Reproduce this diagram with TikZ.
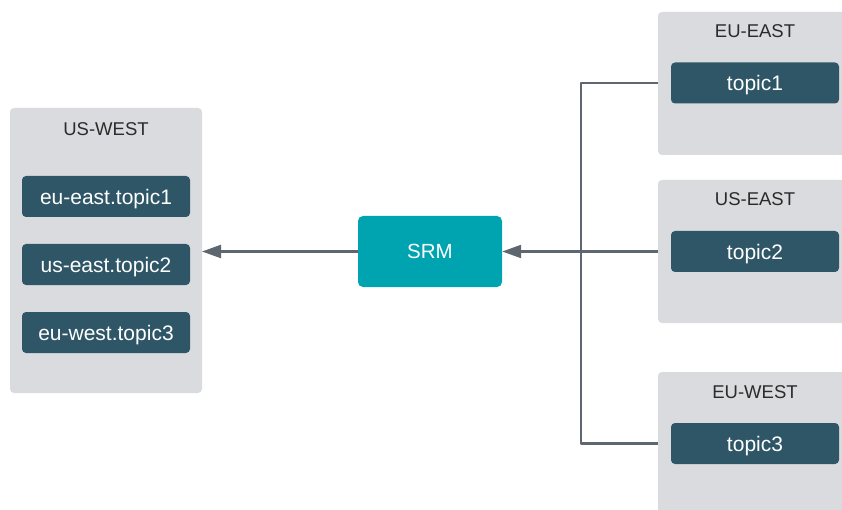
\documentclass[tikz,border=0pt]{standalone}
\usepackage{fontspec}
\setmainfont{Liberation Sans}
\usetikzlibrary{arrows.meta}
\definecolor{panelgray}{HTML}{DADBDE}
\definecolor{topicblue}{HTML}{2E5667}
\definecolor{srmteal}{HTML}{00A4B1}
\definecolor{linegray}{HTML}{5E676F}
\definecolor{headtext}{HTML}{2B2B2B}
\tikzset{
  panel/.style={draw=none, fill=panelgray, rounded corners=4pt, inner sep=0pt, outer sep=0pt},
  header/.style={text=headtext, font=\fontsize{18.5}{20}\selectfont, inner sep=0pt, text height=13.3pt, text depth=0pt},
  topic/.style={fill=topicblue, rounded corners=4pt, text=white, minimum width=168pt, minimum height=41pt, inner sep=0pt, font=\fontsize{21}{23}\selectfont, text height=15.6pt, text depth=0pt},
  srmbox/.style={fill=srmteal, rounded corners=5pt, text=white, minimum width=144pt, minimum height=71pt, inner sep=0pt, font=\fontsize{20.5}{22}\selectfont, text height=14.8pt, text depth=0pt},
  conn/.style={draw=linegray, line width=2.2pt, line join=round},
  arr/.style={conn, -{Triangle[length=19pt,width=13pt]}}
}
\begin{document}
\begin{tikzpicture}[x=1pt,y=-1pt]
\useasboundingbox (0,0) rectangle (842,510);
\clip (0,0) rectangle (842,510);
% left panel
\node[panel, minimum width=192pt, minimum height=285pt] (usWest) at (106,250.5) {};
\node[header] (hUsWest) at (106,128.5) {US-WEST};
\node[topic] (lt1) at (106,196.5) {eu-east.topic1};
\node[topic] (lt2) at (106,264.5) {us-east.topic2};
\node[topic] (lt3) at (106,332.5) {eu-west.topic3};
% right panels
\node[panel, minimum width=194pt, minimum height=143pt] (euEast) at (755,83.5) {};
\node[header] (hEuEast) at (755,30.5) {EU-EAST};
\node[topic] (t1) at (755,83) {topic1};
\node[panel, minimum width=194pt, minimum height=143pt] (usEast) at (755,251.5) {};
\node[header] (hUsEast) at (755,198.5) {US-EAST};
\node[topic] (t2) at (755,251.5) {topic2};
\node[panel, minimum width=194pt, minimum height=170pt] (euWest) at (755,457) {};
\node[header] (hEuWest) at (755,391.5) {EU-WEST};
\node[topic] (t3) at (755,443.5) {topic3};
% SRM
\node[srmbox] (srm) at (430,251.5) {SRM};
% connectors
\coordinate (j1) at (581,83);
\coordinate (j3) at (581,443.5);
\draw[conn] (euEast.west |- t1) -- (j1) -- (j3) -- (euWest.west |- t3);
\draw[arr] (usEast.west |- t2) -- (srm.east);
\draw[arr] (srm.west) -- (srm.west -| usWest.east);
\end{tikzpicture}
\end{document}
